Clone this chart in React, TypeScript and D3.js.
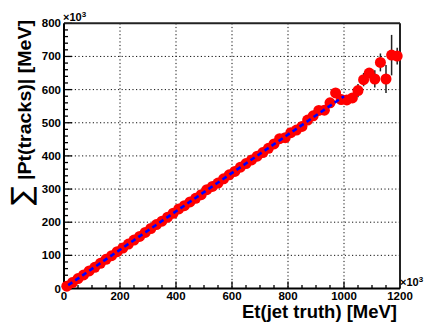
import React from "react";
import * as d3 from "d3";

const xVals = [10, 30, 50, 70, 90, 110, 130, 150, 170, 190, 210, 230, 250, 270, 290, 310, 330, 350, 370, 390,
  410, 430, 450, 470, 490, 510, 530, 550, 570, 590, 610, 630, 650, 670, 690, 710, 730, 750, 770, 790,
  810, 830, 850, 870, 890, 910, 930, 950, 970, 990, 1010, 1030, 1050, 1070, 1090, 1110, 1130, 1150, 1170, 1190];
const yVals = [7, 18, 30, 41, 53, 64, 76, 88, 99, 111, 122, 134, 146, 157, 169, 181, 193, 203, 215, 227,
  240, 250, 261, 272, 283, 298, 308, 318, 331, 343, 353, 366, 377, 388, 399, 410, 423, 436, 452, 455,
  470, 478, 489, 508, 521, 537, 538, 560, 590, 570, 569, 575, 597, 630, 650, 632, 682, 632, 704, 701];
const yErrs = [1, 1, 1, 1, 1, 1, 1, 1, 2, 2, 2, 2, 2, 2, 2, 2, 2, 2, 3, 3,
  3, 3, 3, 3, 3, 3, 3, 3, 4, 4, 4, 4, 4, 4, 4, 5, 5, 5, 5, 5,
  5, 6, 6, 6, 6, 7, 7, 7, 8, 8, 8, 10, 20, 20, 15, 26, 27, 42, 61, 25];
const fitX = [15, 1000];
const fitY = [10, 580];
const xTickVals = [0, 200, 400, 600, 800, 1000, 1200];
const yTickVals = [0, 100, 200, 300, 400, 500, 600, 700, 800];
const xTitle = "Et(jet truth) [MeV]";
const yTitle = "|Pt(tracks)| [MeV]";

export default function App() {
  const L = 64, R = 400, T = 23.3, B = 288.5;
  const x = d3.scaleLinear().domain([0, 1200]).range([L, R]);
  const y = d3.scaleLinear().domain([0, 800]).range([B, T]);
  const xMinor = d3.range(0, 1201, 50);
  const yMinor = d3.range(0, 801, 20);
  const fitPath = d3.line<number>().x((d, i) => x(fitX[i])).y((d) => y(d))(fitY) || "";
  const font = "'Liberation Sans', Arial, Helvetica, sans-serif";
  return (
    <svg width={426} height={322} style={{ position: "absolute", left: 0, top: 0, background: "#fff" }}
      fontFamily={font}>
      <rect x={0} y={0} width={426} height={322} fill="#fff" />
      {/* grid */}
      {xTickVals.filter((v) => v > 0 && v < 1200).map((v) => (
        <line key={"gx" + v} x1={x(v)} x2={x(v)} y1={T} y2={B} stroke="#111" strokeWidth={1}
          strokeDasharray="1.2,2.4" />
      ))}
      {yTickVals.filter((v) => v > 0 && v < 800).map((v) => (
        <line key={"gy" + v} x1={L} x2={R} y1={y(v)} y2={y(v)} stroke="#111" strokeWidth={1}
          strokeDasharray="1.2,2.4" />
      ))}
      {/* minor / major ticks */}
      {xMinor.map((v) => (
        <line key={"tx" + v} x1={x(v)} x2={x(v)} y1={B} y2={B - (v % 200 === 0 ? 7 : 3.5)} stroke="#000" strokeWidth={1.3} />
      ))}
      {yMinor.map((v) => (
        <line key={"ty" + v} x1={L} x2={L + (v % 100 === 0 ? 8 : 4)} y1={y(v)} y2={y(v)} stroke="#000" strokeWidth={1.3} />
      ))}
      {/* frame */}
      <line x1={L} x2={R} y1={T} y2={T} stroke="#222" strokeWidth={2} />
      <line x1={R} x2={R} y1={T} y2={B} stroke="#222" strokeWidth={2} />
      <line x1={L} x2={L} y1={T} y2={B + 1} stroke="#000" strokeWidth={2} />
      <line x1={L - 1} x2={R} y1={B} y2={B} stroke="#000" strokeWidth={2} />
      {/* error bars */}
      {xVals.map((xv, i) => (
        <line key={"e" + i} x1={x(xv)} x2={x(xv)} y1={y(yVals[i] - yErrs[i])} y2={y(yVals[i] + yErrs[i])}
          stroke="#222" strokeWidth={1.5} />
      ))}
      {/* markers */}
      {xVals.map((xv, i) => (
        <circle key={"m" + i} cx={x(xv)} cy={y(yVals[i])} r={5.5} fill="#ff0000" />
      ))}
      {/* fit */}
      <path d={fitPath} fill="none" stroke="#0000ff" strokeWidth={2.6} strokeDasharray="5,3.5" />
      {/* tick labels */}
      {xTickVals.map((v) => (
        <text key={"lx" + v} x={x(v)} y={299.5} fontSize={11.5} fontWeight="bold" textAnchor="middle">{v}</text>
      ))}
      {yTickVals.map((v) => (
        <text key={"ly" + v} x={61} y={y(v) + 4} fontSize={11.5} fontWeight="bold" textAnchor="end">{v}</text>
      ))}
      <text x={63} y={21} fontSize={11} fontWeight="bold">×10<tspan fontSize={8} dy={-4}>3</tspan></text>
      <text x={400} y={286} fontSize={11} fontWeight="bold">×10<tspan fontSize={8} dy={-4}>3</tspan></text>
      {/* axis titles */}
      <text x={397} y={318} fontSize={18} fontWeight="bold" textAnchor="end" textLength={155}
        lengthAdjust="spacingAndGlyphs">{xTitle}</text>
      <g transform="translate(31,205) rotate(-90)">
        <text x={0} y={0} fontSize={28} fontFamily="'DejaVu Sans', sans-serif">∑</text>
        <text x={25} y={0} fontSize={18} fontWeight="bold" textLength={160} lengthAdjust="spacingAndGlyphs">{yTitle}</text>
      </g>
    </svg>
  );
}
